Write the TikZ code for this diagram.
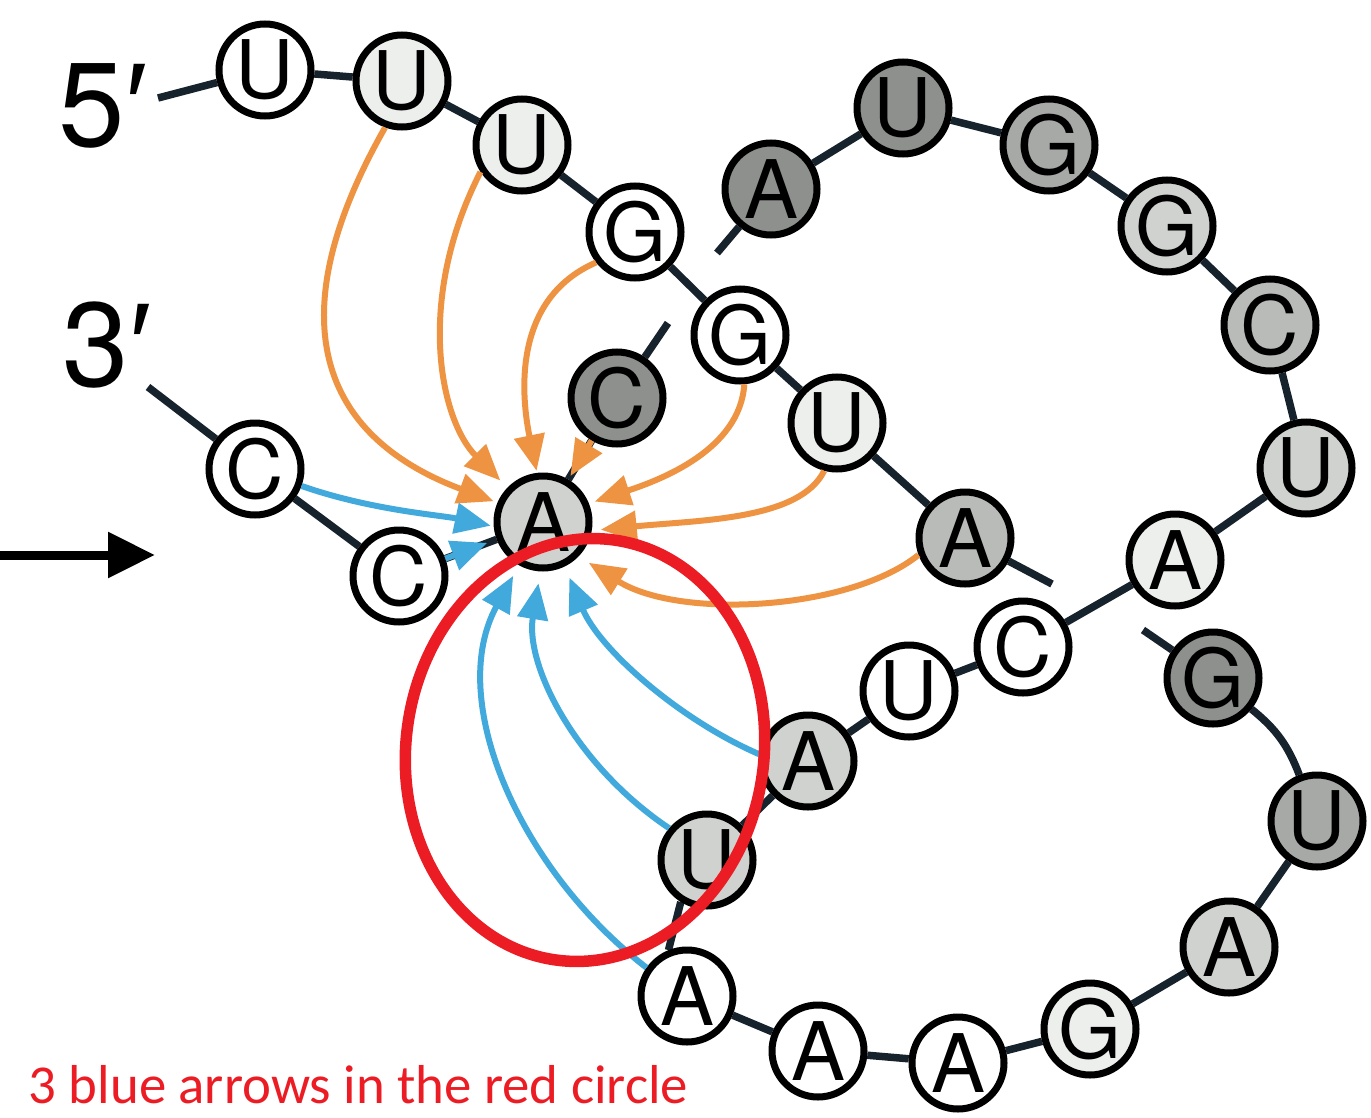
\documentclass[tikz,border=0pt]{standalone}
\usepackage{fontspec}
\setmainfont{TeX Gyre Heros}
\newfontfamily\primefont{Liberation Sans}
\newfontfamily\notefont{Carlito}
\usetikzlibrary{arrows.meta}
\pgfdeclarelayer{bg}
\pgfsetlayers{bg,main}

\definecolor{backbone}{HTML}{17232C}
\definecolor{orangearr}{HTML}{EE9342}
\definecolor{bluearr}{HTML}{41A9DB}
\definecolor{redmark}{HTML}{EC1C24}
\definecolor{fillpale}{HTML}{EDEFED}
\definecolor{filllight}{HTML}{CFD2CF}
\definecolor{fillmid}{HTML}{B8BBB8}
\definecolor{fillmiddark}{HTML}{A6A9A6}
\definecolor{filldark}{HTML}{8D908D}

\begin{document}
\begin{tikzpicture}[
  base/.style={circle, draw=black, line width=0.07cm, minimum size=0.92cm,
    inner sep=0pt, font=\fontsize{23}{23}\selectfont},
  nwhite/.style={base, fill=white},
  npale/.style={base, fill=fillpale},
  nlight/.style={base, fill=filllight},
  nmid/.style={base, fill=fillmid},
  nmiddark/.style={base, fill=fillmiddark},
  ndark/.style={base, fill=filldark},
  link/.style={draw=backbone, line width=0.075cm},
  oarrow/.style={draw=orangearr, line width=0.06cm,
    -{Triangle[length=0.36cm, width=0.30cm]}, shorten >=0.07cm},
  barrow/.style={draw=bluearr, line width=0.06cm,
    -{Triangle[length=0.36cm, width=0.30cm]}, shorten >=0.07cm},
  endlabel/.style={font=\fontsize{34}{34}\selectfont, inner sep=0pt, anchor=base west},
]
\useasboundingbox (0,0) rectangle (13.71,-11.17);

% strand ends
\node[endlabel] (five) at (0.58,-1.46) {5{\primefont ′}};
\node[endlabel] (three) at (0.62,-3.86) {3{\primefont ′}};
\coordinate (p5) at (1.58,-0.98);
\coordinate (p3) at (1.48,-3.87);

% nucleotides, 5' to 3'
\node[nwhite]   (U1)  at (2.65,-0.70)  {U};
\node[npale]    (U2)  at (4.02,-0.81)  {U};
\node[npale]    (U3)  at (5.22,-1.45)  {U};
\node[nwhite]   (G4)  at (6.35,-2.32)  {G};
\node[nwhite]   (G5)  at (7.40,-3.35)  {G};
\node[npale]    (U6)  at (8.37,-4.23)  {U};
\node[nmid]     (A7)  at (9.65,-5.38)  {A};
\node[ndark]    (G8)  at (12.13,-6.78) {G};
\node[nmiddark] (U9)  at (13.17,-8.21) {U};
\node[nlight]   (A10) at (12.29,-9.47) {A};
\node[npale]    (G11) at (10.90,-10.29) {G};
\node[nwhite]   (A12) at (9.58,-10.63) {A};
\node[nwhite]   (A13) at (8.18,-10.51) {A};
\node[nwhite]   (A14) at (6.87,-9.96)  {A};
\node[nlight]   (U15) at (7.07,-8.60)  {U};
\node[nlight]   (A16) at (8.08,-7.61)  {A};
\node[nwhite]   (U17) at (9.09,-6.91)  {U};
\node[nwhite]   (C18) at (10.23,-6.47) {C};
\node[npale]    (A19) at (11.75,-5.60) {A};
\node[nlight]   (U20) at (13.06,-4.68) {U};
\node[nmid]     (C21) at (12.70,-3.25) {C};
\node[nlight]   (G22) at (11.67,-2.26) {G};
\node[nmiddark] (G23) at (10.49,-1.45) {G};
\node[ndark]    (U24) at (9.03,-1.08)  {U};
\node[ndark]    (A25) at (7.71,-1.89)  {A};
\node[ndark]    (C26) at (6.17,-3.98)  {C};
\node[nlight]   (A27) at (5.43,-5.22)  {A};
\node[nwhite]   (C28) at (3.99,-5.76)  {C};
\node[nwhite]   (C29) at (2.55,-4.69)  {C};

% breaks where the backbone passes under another link
\coordinate (x1) at (10.52,-5.84);
\coordinate (x2) at (11.43,-6.30);
\coordinate (y1) at (7.17,-2.53);
\coordinate (y2) at (6.68,-3.23);

\begin{pgfonlayer}{bg}
  \draw[link] (p5) -- (U1);
  \draw[link] (U1) -- (U2);
  \draw[link] (U2) -- (U3);
  \draw[link] (U3) -- (G4);
  \draw[link] (G4) -- (G5);
  \draw[link] (G5) -- (U6);
  \draw[link] (U6) -- (A7);
  \draw[link] (A7) -- (x1);
  \draw[link] (x2) -- (G8);
  \draw[link] (G8) to[bend left=15] (U9);
  \draw[link] (U9) -- (A10);
  \draw[link] (A10) -- (G11);
  \draw[link] (G11) -- (A12);
  \draw[link] (A12) -- (A13);
  \draw[link] (A13) -- (A14);
  \draw[link] (A14.112) -- (U15.238);
  \draw[link] (U15) -- (A16);
  \draw[link] (A16) -- (U17);
  \draw[link] (U17) -- (C18);
  \draw[link] (C18) -- (A19);
  \draw[link] (A19) -- (U20);
  \draw[link] (U20) -- (C21);
  \draw[link] (C21) -- (G22);
  \draw[link] (G22) -- (G23);
  \draw[link] (G23) -- (U24);
  \draw[link] (U24) -- (A25);
  \draw[link] (A25) -- (y1);
  \draw[link] (y2) -- (C26);
  \draw[link] (C26) -- (A27);
  \draw[link] (A27) -- (C28);
  \draw[link] (C28) -- (C29);
  \draw[link] (C29) -- (p3);
\end{pgfonlayer}

% orange contacts
\draw[oarrow, shorten >=0.04cm] (U2.250) .. controls (2.70,-3.30) and (3.30,-4.40) .. (A27.157);
\draw[oarrow, shorten >=0.10cm] (U3.213) .. controls (4.15,-3.00) and (4.40,-4.20) .. (A27.136);
\draw[oarrow, shorten >=0.02cm] (G4.218) .. controls (5.10,-3.00) and (5.22,-4.00) .. (A27.97);
\draw[oarrow, shorten >=0.04cm] (C26) -- (A27);
\draw[oarrow, shorten >=0.06cm] (G5.275) .. controls (7.40,-4.50) and (6.60,-4.80) .. (A27.22);
\draw[oarrow, shorten >=0.09cm] (U6.255) .. controls (8.00,-5.20) and (7.00,-5.20) .. (A27.350);
\draw[oarrow, shorten >=0.12cm] (A7.200) .. controls (8.50,-6.10) and (6.80,-6.20) .. (A27.316);

% blue contacts
\draw[barrow, shorten >=0.03cm] (C29.340) .. controls (3.70,-5.10) and (4.40,-5.15) .. (A27.185);
\draw[barrow, shorten >=0.10cm] (C28) -- (A27);
\draw[barrow, shorten >=0.12cm] (A14.145) .. controls (5.20,-8.70) and (4.45,-7.00) .. (A27.241);
\draw[barrow, shorten >=0.12cm] (U15.140) .. controls (5.75,-7.65) and (5.25,-6.65) .. (A27.267);
\draw[barrow, shorten >=0.12cm] (A16.172) .. controls (6.80,-7.20) and (6.00,-6.50) .. (A27.296);

% pointer on the left
\coordinate (ptrS) at (0,-5.55);
\coordinate (ptrE) at (1.55,-5.55);
\draw[black, line width=0.09cm, -{Triangle[length=0.47cm, width=0.44cm]}] (ptrS) -- (ptrE);

% highlight ring and note
\begin{scope}[shift={(5.85,-7.50)}, rotate=-8]
  \draw[redmark, line width=0.115cm] (0,0) ellipse (1.79 and 2.12);
\end{scope}
\node[anchor=base west, inner sep=0pt, text=redmark,
  font=\notefont\fontsize{15.6}{15.6}\selectfont] (note) at (0.28,-11.03)
  {3 blue arrows in the red circle};
\end{tikzpicture}
\end{document}
